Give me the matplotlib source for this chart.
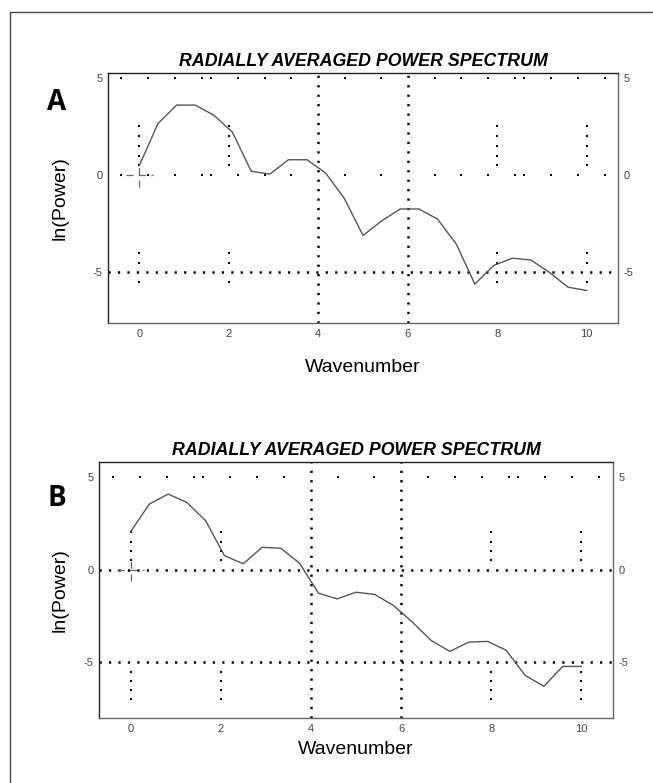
import numpy as np
import matplotlib.pyplot as plt
from matplotlib.patches import Rectangle

plt.rcParams['font.family'] = ['Liberation Sans', 'DejaVu Sans']
plt.rcParams['lines.scale_dashes'] = False
plt.rcParams['axes.unicode_minus'] = False

# wavenumber samples (25 points, 0..10)
wavenumber = np.linspace(0, 10, 25)
# ln(power)
power_a = [0.5, 2.65, 3.6, 3.6, 3.08, 2.2, 0.2, 0.05, 0.79, 0.79, 0.1, -1.2, -3.1,
           -2.35, -1.74, -1.74, -2.26, -3.54, -5.6, -4.65, -4.27, -4.36, -5.0, -5.76, -5.93]
power_b = [2.04, 3.53, 4.07, 3.62, 2.63, 0.75, 0.31, 1.2, 1.15, 0.34, -1.27, -1.58, -1.22,
           -1.34, -1.94, -2.83, -3.82, -4.41, -3.91, -3.87, -4.35, -5.7, -6.29, -5.22, -5.22]

xticks = [0, 2, 4, 6, 8, 10]
yticks = [-5, 0, 5]

# the sparse marker dots of the original software's grid
row_dots = [-0.4, 0.2, 0.8, 1.4, 1.6, 2.2, 2.8, 3.4, 4.6, 5.4, 6.6, 7.2, 7.8, 8.4, 8.6, 9.2, 9.8, 10.4]
stub_x = [0, 2, 8, 10]
stub_a_y = [0.5, 1.0, 1.5, 2.0, 2.5, -4.0, -4.5, -5.5]
stub_b_y = [0.5, 1.0, 1.5, 2.0, -5.5, -6.0, -6.5, -7.0]

DOT = (0, (1.6, 5.2))


def panel(ax, y, ylim, full_h, dotted_rows, stub_y, xpad, ypad):
    ax.set_xlim(-0.7, 10.7)
    ax.set_ylim(*ylim)
    for s in ['left', 'top']:
        ax.spines[s].set_color('#222222')
    for s in ['right', 'bottom']:
        ax.spines[s].set_color('#666666')
    for sp in ax.spines.values():
        sp.set_linewidth(1.0)
    ax.set_xticks(xticks)
    ax.set_yticks(yticks)
    ax.tick_params(length=0, labelsize=8, labelcolor='#444444', labelright=True, pad=4)

    # full dotted grid lines
    for xv in [4, 6]:
        ax.axvline(xv, color='black', lw=1.8, linestyle=DOT)
    for yv in full_h:
        ax.axhline(yv, color='black', lw=1.8, linestyle=DOT)
    # sparse rows
    for yv in dotted_rows:
        ax.plot(row_dots, [yv] * len(row_dots), 's', color='black', ms=1.9, mew=0)
    # stubs
    for xv in stub_x:
        ax.plot([xv] * len(stub_y), stub_y, 's', color='black', ms=1.9, mew=0)
    # crosshair at origin
    ax.plot([-0.3, 0.3], [0, 0], color='#666666', lw=0.9, linestyle=(0, (5, 4)))
    ax.plot([0, 0], [-0.6, 0.6], color='#666666', lw=0.9, linestyle=(0, (5, 4)))

    ax.plot(wavenumber, y, color='#555555', lw=1.0)
    ax.set_title('RADIALLY AVERAGED POWER SPECTRUM', fontsize=12.8, fontweight='bold',
                 fontstyle='italic', pad=5)
    ax.set_xlabel('Wavenumber', fontsize=14, labelpad=xpad)
    ax.set_ylabel('ln(Power)', fontsize=14, labelpad=ypad)
    return ax


fig = plt.figure(figsize=(6.53, 7.83), dpi=100)
fig.patches.append(Rectangle((10 / 653, -0.1), 1.2, 1.1 - 12 / 783, transform=fig.transFigure,
                             fill=False, edgecolor='#444444', lw=1.0))

ax1 = fig.add_axes([0.1654, 0.5875, 0.781, 0.3193])
panel(ax1, power_a, (-7.6, 5.25), [-5], [5, 0], stub_a_y, 15, 17)
ax2 = fig.add_axes([0.1516, 0.0830, 0.7871, 0.3270])
panel(ax2, power_b, (-8.0, 5.8), [0, -5], [5], stub_b_y, 5, 11)

fig.text(57 / 653, 1 - 102 / 783, 'A', fontsize=20, fontweight='bold', ha='center', va='center',
         family=['Open Sans', 'DejaVu Sans'])
fig.text(57 / 653, 1 - 498 / 783, 'B', fontsize=20, fontweight='bold', ha='center', va='center',
         family=['Open Sans', 'DejaVu Sans'])

fig.savefig('out.png', dpi=100)
